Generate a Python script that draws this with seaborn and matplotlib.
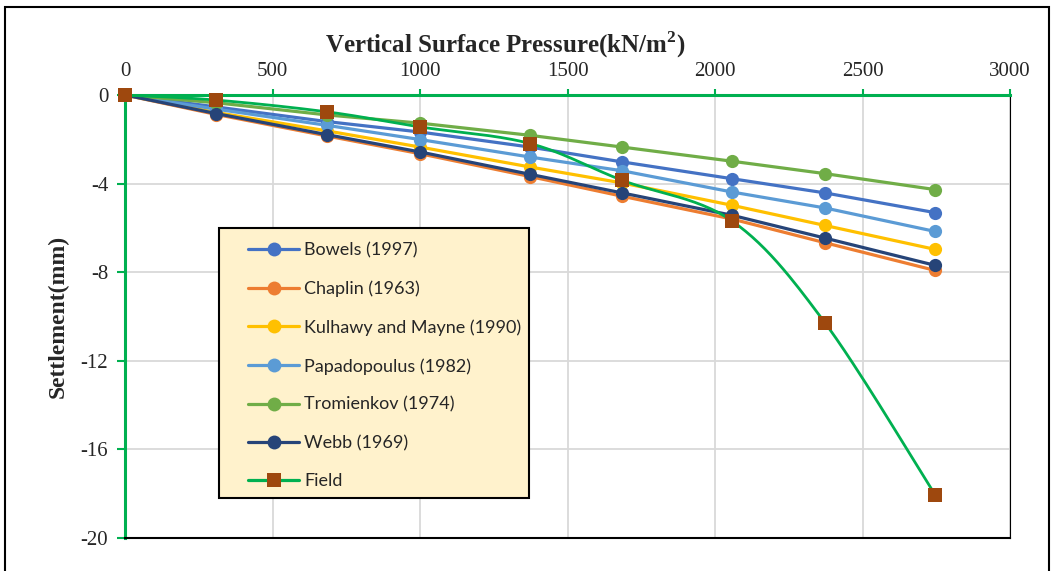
import numpy as np
import pandas as pd
import seaborn as sns
import matplotlib.pyplot as plt
from matplotlib.lines import Line2D
from matplotlib.patches import Rectangle

# pressure (kN/m2) and settlement (mm)
pressure = [0, 310, 685, 1000, 1373, 1685, 2058, 2373, 2746]
bowels = [0, -0.54, -1.20, -1.67, -2.35, -3.02, -3.78, -4.42, -5.31]
chaplin = [0, -0.88, -1.85, -2.65, -3.68, -4.57, -5.60, -6.67, -7.92]
kulhawy = [0, -0.79, -1.62, -2.35, -3.25, -3.97, -4.98, -5.89, -6.97]
papadopoulus = [0, -0.64, -1.37, -2.01, -2.80, -3.42, -4.38, -5.10, -6.16]
tromienkov = [0, -0.35, -0.90, -1.27, -1.82, -2.35, -2.99, -3.55, -4.27]
webb = [0, -0.84, -1.79, -2.57, -3.58, -4.42, -5.43, -6.46, -7.69]
field = [0, -0.23, -0.76, -1.44, -2.19, -3.85, -5.69, -10.29, -18.05]

series = [
    ("Bowels (1997)", bowels, "#4472C4"),
    ("Chaplin (1963)", chaplin, "#ED7D31"),
    ("Kulhawy and Mayne (1990)", kulhawy, "#FFC000"),
    ("Papadopoulus (1982)", papadopoulus, "#5B9BD5"),
    ("Tromienkov (1974)", tromienkov, "#70AD47"),
    ("Webb (1969)", webb, "#264478"),
]
FIELD_LINE = "#00B050"
FIELD_MARK = "#9E480E"
AXIS_GREEN = "#00B050"


def smooth(xs, ys, n=30):
    # excel-like smoothed line (catmull-rom through the points)
    x = np.asarray(xs, float)
    y = np.asarray(ys, float)
    px = np.concatenate([[x[0]], x, [x[-1]]])
    py = np.concatenate([[y[0]], y, [y[-1]]])
    outx, outy = [], []
    t = np.linspace(0, 1, n)
    for i in range(1, len(px) - 2):
        p0, p1, p2, p3 = [np.array([px[j], py[j]]) for j in (i - 1, i, i + 1, i + 2)]
        c1 = p1 + (p2 - p0) / 6
        c2 = p2 - (p3 - p1) / 6
        b = ((1 - t) ** 3)[:, None] * p1 + (3 * (1 - t) ** 2 * t)[:, None] * c1 \
            + (3 * (1 - t) * t ** 2)[:, None] * c2 + (t ** 3)[:, None] * p2
        outx.extend(b[:, 0])
        outy.extend(b[:, 1])
    return outx, outy


sns.set_style("white")
plt.rcParams["axes.unicode_minus"] = False
fig = plt.figure(figsize=(10.54, 5.71), dpi=100)
ax = fig.add_axes([0.1186, 0.0578, 0.8397, 0.7758])

for name, vals, col in series:
    sns.lineplot(x=pressure, y=vals, ax=ax, color=col, linewidth=2.3, marker="o",
                 markersize=9.5, markeredgewidth=0, sort=False, clip_on=False)

sx, sy = smooth(pressure, field)
sns.lineplot(x=sx, y=sy, ax=ax, color=FIELD_LINE, linewidth=2.0, sort=False)
sns.scatterplot(x=pressure, y=field, ax=ax, color=FIELD_MARK, marker="s", s=100,
                linewidth=0, zorder=5, clip_on=False)

ax.set_xlim(0, 3000)
ax.set_ylim(-20, 0)
ax.set_xticks(range(0, 3001, 500))
ax.set_yticks(range(-20, 1, 4))
ax.xaxis.tick_top()
ax.xaxis.set_label_position("top")
ax.grid(True, color="#d9d9d9", linewidth=1.3)
ax.set_axisbelow(True)

serif = "Liberation Serif"
ax.set_xlabel("Vertical Surface Pressure(kN/m$^\\mathregular{2}$)", fontfamily=serif,
              fontweight="bold", fontsize=18)
ax.xaxis.set_label_coords(0.43, 1.095)
ax.set_ylabel("Settlement(mm)", fontfamily=serif, fontweight="bold", fontsize=17)
ax.yaxis.set_label_coords(-0.064, 0.5)
for lab in ax.get_xticklabels() + ax.get_yticklabels():
    lab.set_fontfamily(serif)
    lab.set_fontsize(15)
ax.tick_params(axis="x", top=True, bottom=False, length=4, width=1.5,
               color=AXIS_GREEN, pad=6)
ax.tick_params(axis="y", left=True, length=6, width=1.5, color=AXIS_GREEN, pad=6)

ax.spines["top"].set_color(AXIS_GREEN)
ax.spines["top"].set_linewidth(2.2)
ax.spines["left"].set_color(AXIS_GREEN)
ax.spines["left"].set_linewidth(2.2)
ax.spines["bottom"].set_color("black")
ax.spines["bottom"].set_linewidth(1.5)
ax.spines["right"].set_color("black")
ax.spines["right"].set_linewidth(0.8)

# legend box
ax.add_patch(Rectangle((0.1062, 0.0903), 0.3503, 0.6095, transform=ax.transAxes,
                       facecolor="#FFF2CC", edgecolor="black", linewidth=1.5,
                       zorder=6))
handles = [Line2D([], [], color=c, linewidth=2.3, marker="o", markersize=10,
                  markeredgewidth=0) for _, _, c in series]
handles.append(Line2D([], [], color=FIELD_LINE, linewidth=2.3, marker="s",
                      markersize=10, markerfacecolor=FIELD_MARK, markeredgewidth=0))
labels = [s[0] for s in series] + ["Field"]
leg = ax.legend(handles, labels, loc="upper left", bbox_to_anchor=(0.139, 0.668),
                prop={"family": "Lato", "size": 13}, frameon=False,
                handlelength=2.85, handletextpad=0.25, labelspacing=1.23,
                borderpad=0, borderaxespad=0)
leg.set_zorder(7)

fig.patches.append(Rectangle((5 / 1054, -0.05), 1044 / 1054, 1.05 - 7 / 571,
                             transform=fig.transFigure, fill=False,
                             edgecolor="black", linewidth=1.5))

fig.savefig("out.png", dpi=100)
